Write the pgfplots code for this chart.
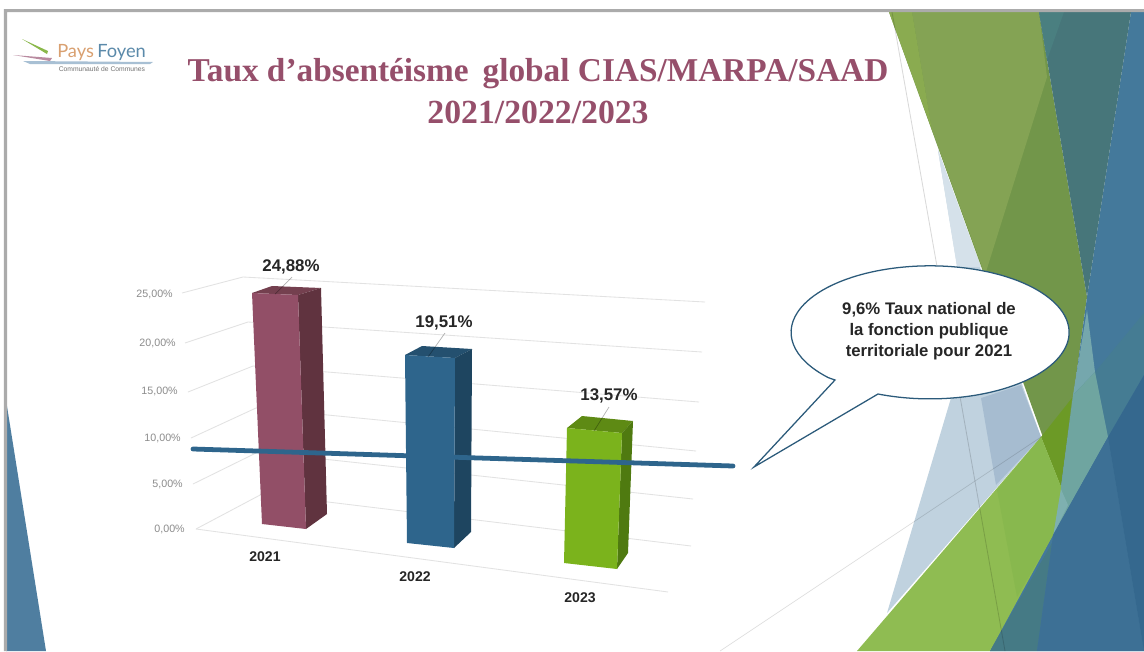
\documentclass[border=0pt]{standalone}
\usepackage{fontspec}
\setmainfont{Liberation Sans}
\newfontfamily\serif{Liberation Serif}
\newfontfamily\logofont{Lato}
\usepackage{pgfplots}
\pgfplotsset{compat=1.18}
\definecolor{titlecol}{HTML}{964F6B}
\definecolor{grid}{HTML}{E2E2E2}
\definecolor{ticktxt}{HTML}{8C8C8C}
\definecolor{linecol}{HTML}{2E658C}
\definecolor{bubble}{HTML}{2B5A7A}
\definecolor{logoa}{HTML}{D9A070}
\definecolor{logob}{HTML}{5B8AAA}
% fill a polygon given in picture pixels
\newcommand{\poly}[2]{\definecolor{c#1}{HTML}{#1}\addplot[fill=c#1,draw=none,no marks,forget plot] coordinates {#2} -- cycle;}
\newcommand{\gridl}[1]{\addplot[color=grid,line width=0.6pt,no marks,forget plot] coordinates {#1};}
\begin{document}
\begin{tikzpicture}
\begin{axis}[
  scale only axis,
  width=28.6cm,
  height=16.275cm,
  xmin=0, xmax=1144,
  ymin=0, ymax=651,
  y dir=reverse,
  hide axis,
  clip=true,
]
% left triangle
\poly{FFFFFF}{(0,0) (1144,0) (1144,651) (0,651)}
\poly{4F7EA0}{(6,400) (6,651) (46,651)}

% pale shapes behind the green
\poly{C0D2DF}{(938,150) (1041,437) (887,613) (951,398) (957,265)}
\poly{D5E1EA}{(938,150) (981,267) (957,267)}
\poly{A6BCD0}{(981,398) (1021,385) (1041,437) (996,485)}
% greens, top
\poly{72964A}{(889,12) (1039,12) (1087,297) (1061,487)}
\poly{84A354}{(912,12) (1039,12) (1047,77) (985,275) (932,130)}
\poly{8AAB50}{(889,12) (912,12) (932,130)}
\poly{6C9A26}{(1041,437) (1072,398) (1061,487)}
% teal and blue
\poly{44799B}{(1131,12) (1144,12) (1144,651) (990,651) (1061,487) (1087,297)}
\poly{47767A}{(1039,12) (1131,12) (1087,297)}
\poly{4A7F80}{(1039,12) (1064,12) (1047,60)}
\poly{457C93}{(1095,372) (1144,313) (1144,375) (1108,437)}
\poly{75A7AD}{(1087,310) (1095,372) (1073,395)}
\poly{6FA5A0}{(1073,395) (1095,372) (1108,437) (1053,535) (1061,487)}
\poly{7EB0B0}{(1060,487) (1068,505) (1053,535)}
% lower greens
\poly{8FBC52}{(857,651) (1041,437) (1061,487) (1053,535) (990,651)}
\poly{88B84E}{(997,490) (1041,437) (1061,487) (1053,535) (1017,597)}
% bottom right blues
\poly{457A85}{(990,651) (1052,543) (1037,651)}
\poly{3D7095}{(1037,651) (1052,543) (1053,535) (1108,437) (1144,651)}
\poly{35688E}{(1108,437) (1144,375) (1144,651)}

% thin slide lines
\addplot[color=black,opacity=0.15,line width=0.6pt,no marks,forget plot] coordinates {(892,12) (1005,651)};
\addplot[color=black,opacity=0.13,line width=0.5pt,no marks,forget plot] coordinates {(720,651) (1041,437)};

% frame
\poly{ABABAB}{(4,9) (1144,9) (1144,12) (7,12) (7,651) (4,651)}

% gridlines of the 3d chart
\gridl{(182,293) (243,277) (705,302)}
\gridl{(185,343) (248,322) (702,352)}
\gridl{(188,392) (253,366) (699,402)}
\gridl{(191,438) (256,408) (696,451)}
\gridl{(193,484) (258,452) (693,499)}
\gridl{(196,529) (262,494) (691,546)}
\gridl{(196,529) (668,592)}

% bar 2021, 24.88
\poly{74404F}{(252,293) (272,286) (321,288) (298,295)}
\poly{60333F}{(298,295) (321,288) (327,514) (306,529)}
\poly{924F67}{(252,293) (298,295) (306,529) (262,524)}
% bar 2022, 19.51
\poly{24506F}{(405,355) (422,346) (472,349) (455,358)}
\poly{1E4560}{(455,358) (472,349) (471,532) (454,548)}
\poly{2E658C}{(405,355) (455,358) (454,548) (407,543)}
% bar 2023, 13.57
\poly{5E8A14}{(567,428) (582,416) (633,421) (622,433)}
\poly{4F7A10}{(622,433) (633,421) (628,553) (617,569)}
\poly{7BB31C}{(567,428) (622,433) (617,569) (564,563)}

% leader lines
\addplot[color=black,opacity=0.3,line width=0.5pt,no marks,forget plot] coordinates {(292,277) (275,294)};
\addplot[color=black,opacity=0.3,line width=0.5pt,no marks,forget plot] coordinates {(445,333) (428,357)};
\addplot[color=black,opacity=0.3,line width=0.5pt,no marks,forget plot] coordinates {(609,407) (594,431)};

% national rate line
\addplot[color=linecol,line width=3.4pt,line cap=round,no marks,forget plot] coordinates {(193,449) (733,466)};

% callout
\draw[fill=white,draw=bubble,line width=0.9pt,line join=miter]
  (axis cs:835,380) -- (axis cs:754,467) -- (axis cs:878,394)
  arc[x radius=3.475cm,y radius=1.6625cm,start angle=248,end angle=583] -- cycle;
\node[align=center,font=\fontsize{11.9}{14.9}\selectfont\bfseries,text=black!85,inner sep=0pt]
  at (axis cs:929,331) {9,6\% Taux national de\\la fonction publique\\territoriale pour 2021};

% data labels
\node[font=\fontsize{12}{14}\selectfont\bfseries,text=black!85] at (axis cs:291,267) {24,88\%};
\node[font=\fontsize{12}{14}\selectfont\bfseries,text=black!85] at (axis cs:444,323) {19,51\%};
\node[font=\fontsize{12}{14}\selectfont\bfseries,text=black!85] at (axis cs:609,396) {13,57\%};
% category labels
\node[font=\fontsize{10}{12}\selectfont\bfseries,text=black!85] at (axis cs:265,557) {2021};
\node[font=\fontsize{10}{12}\selectfont\bfseries,text=black!85] at (axis cs:415,577) {2022};
\node[font=\fontsize{10}{12}\selectfont\bfseries,text=black!85] at (axis cs:580,598) {2023};
% value axis labels
\node[font=\fontsize{7.6}{9}\selectfont,text=ticktxt,anchor=east,inner sep=0pt] at (axis cs:173,294) {25,00\%};
\node[font=\fontsize{7.6}{9}\selectfont,text=ticktxt,anchor=east,inner sep=0pt] at (axis cs:176,343) {20,00\%};
\node[font=\fontsize{7.6}{9}\selectfont,text=ticktxt,anchor=east,inner sep=0pt] at (axis cs:178,391) {15,00\%};
\node[font=\fontsize{7.6}{9}\selectfont,text=ticktxt,anchor=east,inner sep=0pt] at (axis cs:181,438) {10,00\%};
\node[font=\fontsize{7.6}{9}\selectfont,text=ticktxt,anchor=east,inner sep=0pt] at (axis cs:183,484) {5,00\%};
\node[font=\fontsize{7.6}{9}\selectfont,text=ticktxt,anchor=east,inner sep=0pt] at (axis cs:185,529) {0,00\%};

% title
\node[font=\fontsize{23.7}{28}\selectfont\serif\bfseries,text=titlecol,inner sep=0pt] at (axis cs:538,74) {Taux d’absentéisme\, global CIAS/MARPA/SAAD};
\node[font=\fontsize{24}{28}\selectfont\serif\bfseries,text=titlecol,inner sep=0pt] at (axis cs:538,112) {2021/2022/2023};

% logo
\poly{8AB84A}{(22,39) (48,51) (47,54)}
\poly{B98BA0}{(13,55) (52,58) (50,61)}
\poly{A8C0D4}{(23,61) (153,62) (150,64) (30,64)}
\node[font=\fontsize{13}{14}\selectfont\logofont,text=logoa,anchor=base west,inner sep=0pt] at (axis cs:57,57) {Pays};
\node[font=\fontsize{13}{14}\selectfont\logofont,text=logob,anchor=base west,inner sep=0pt] at (axis cs:97,57) {Foyen};
\node[font=\fontsize{4.8}{5}\selectfont,text=black!55,inner sep=0pt] at (axis cs:102,69) {Communauté de Communes};
\end{axis}
\end{tikzpicture}
\end{document}
